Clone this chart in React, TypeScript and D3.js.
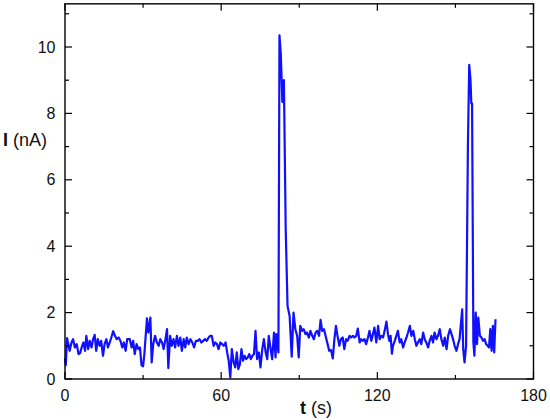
import React, { useEffect, useRef } from "react";
import * as d3 from "d3";

const xTicksMajor = [0, 60, 120, 180];
const xTicksMinor = [30, 90, 150];
const yTicksMajor = [0, 2, 4, 6, 8, 10];
const yTicksMinor = [1, 3, 5, 7, 9, 11];

const time = [
  0, 0.3, 0.8, 1.8, 2.5, 3.1, 3.8, 4.5, 5.2, 5.8, 6.4, 7.1, 7.7, 8.2, 8.9, 9.5, 10.2, 10.8, 11.4, 12.0, 12.6,
  13.3, 13.9, 14.6, 15.2, 15.9, 16.5, 17.2, 17.8, 18.5, 19.2, 19.9, 20.6, 21.3, 22.0, 22.6, 23.3, 23.9, 24.9,
  25.6, 26.2, 26.8, 27.5, 28.2, 28.8, 29.4, 30.0, 30.5, 31.0, 31.5, 32.0, 32.4, 32.8, 33.3, 33.9, 34.6, 35.3,
  36.0, 36.6, 37.3, 37.9, 38.6, 39.2, 39.7, 40.4, 41.0, 41.7, 42.3, 43.0, 43.6, 44.3, 44.9, 45.6, 46.2, 46.8,
  47.5, 48.2, 48.9, 49.6, 50.3, 51.0, 51.7, 52.4, 53.1, 53.8, 54.5, 55.2, 55.8, 56.4, 57.1, 57.7, 58.4, 59.0,
  59.7, 60.4, 61.0, 61.7, 62.3, 62.9, 63.5, 64.1, 64.8, 65.4, 66.0, 66.6, 67.2, 67.8, 68.4, 69.0, 69.6, 70.2,
  70.8, 71.4, 72.0, 72.6, 73.2, 73.8, 74.5, 75.1, 75.8, 76.4, 77.1, 77.7, 78.3, 79.0, 79.6, 80.3, 80.9, 81.2,
  82.0, 82.4, 82.9, 83.5, 84.1, 84.8, 85.5, 86.3, 87.1, 87.8, 88.5, 89.2, 89.8, 90.4, 91.1, 91.7, 92.4, 93.0,
  93.7, 94.3, 95.0, 95.6, 96.3, 96.9, 97.6, 98.2, 98.8, 99.5, 100.1, 100.9, 101.5, 102.2, 102.9, 103.5, 104.1,
  104.7, 105.4, 106.0, 106.7, 107.3, 108.0, 108.6, 109.3, 109.9, 110.6, 111.2, 111.9, 112.5, 113.2, 113.8,
  114.4, 115.1, 115.7, 116.4, 117.0, 117.7, 118.3, 118.9, 119.6, 120.3, 120.9, 121.5, 122.2, 122.8, 123.5,
  124.1, 124.6, 125.1, 125.6, 126.0, 126.7, 127.3, 127.9, 128.6, 129.2, 129.9, 130.5, 131.2, 131.8, 132.5,
  133.1, 133.8, 134.4, 135.0, 135.6, 136.3, 136.9, 137.6, 138.2, 138.8, 139.5, 140.1, 140.8, 141.4, 142.0,
  142.7, 143.3, 144.0, 144.6, 145.3, 145.9, 146.6, 147.2, 147.9, 148.5, 149.1, 149.7, 150.4, 151.0, 151.6,
  152.1, 152.6, 153.0, 153.5, 154.1, 154.8, 155.3, 155.8, 156.1, 156.4, 156.9, 157.3, 157.8, 158.3, 158.8,
  159.4, 160.0, 160.6, 161.2, 161.8, 162.4, 162.9, 163.4, 163.9, 164.4, 164.9, 165.4,
];

const current = [
  0.62, 0.42, 1.23, 0.85, 1.1, 1.2, 0.95, 1.05, 0.75, 0.78, 0.95, 1.1, 0.85, 1.3, 0.9, 1.15, 0.95, 1.2, 1.33,
  0.85, 1.2, 1.0, 1.15, 0.7, 1.05, 1.2, 0.95, 1.1, 1.25, 1.44, 1.3, 1.2, 1.25, 1.15, 0.95, 1.1, 0.85, 1.2, 1.2,
  0.95, 1.15, 0.75, 1.05, 0.9, 0.95, 0.42, 0.38, 0.75, 1.3, 1.83, 1.4, 1.6, 1.85, 0.5, 1.05, 1.3, 1.1, 1.0,
  1.2, 1.1, 0.9, 1.2, 1.5, 0.33, 1.3, 1.0, 1.2, 0.95, 1.3, 1.0, 1.25, 0.85, 1.2, 0.95, 1.25, 1.05, 1.2, 1.1,
  0.95, 1.15, 1.15, 1.2, 1.1, 1.15, 1.2, 1.15, 1.25, 1.3, 1.3, 1.0, 1.1, 1.05, 0.9, 1.1, 1.05, 1.0, 1.1, 0.8,
  0.55, 0.05, 0.9, 0.5, 0.35, 0.8, 0.3, 0.45, 0.9, 0.55, 0.7, 0.6, 0.65, 0.75, 0.6, 0.7, 0.75, 1.45, 0.6,
  0.8, 0.35, 0.9, 1.2, 0.8, 0.6, 1.3, 0.9, 0.6, 1.4, 0.65, 1.35, 0.8, 10.35, 9.8, 8.35, 9.0, 4.5, 2.2, 1.9,
  0.67, 2.0, 1.5, 1.3, 0.65, 1.6, 1.45, 1.5, 1.35, 1.4, 1.25, 1.45, 1.3, 1.2, 1.4, 1.45, 1.3, 1.78, 1.45, 1.5,
  1.3, 1.05, 0.85, 0.87, 0.62, 1.2, 1.6, 1.3, 1.0, 1.2, 1.25, 0.9, 1.2, 1.15, 1.3, 1.25, 1.3, 1.25, 1.3,
  1.52, 1.1, 1.2, 1.15, 1.2, 1.05, 1.25, 1.45, 1.15, 1.35, 1.55, 1.1, 1.6, 1.2, 1.3, 1.25, 1.45, 1.73, 1.35,
  1.15, 1.3, 0.76, 1.0, 1.15, 1.3, 1.45, 1.1, 1.2, 0.95, 1.1, 1.25, 1.4, 1.6, 1.3, 1.45, 1.2, 1.0, 1.1, 1.2,
  1.05, 1.4, 1.2, 1.1, 0.95, 1.15, 1.3, 1.1, 1.4, 1.2, 1.3, 1.5, 1.2, 1.0, 1.25, 0.9, 1.3, 1.5, 1.35, 1.2,
  1.0, 0.85, 1.05, 1.2, 1.65, 2.1, 0.9, 0.5, 1.0, 7.0, 9.46, 9.0, 8.3, 8.3, 1.1, 0.7, 2.0, 1.05, 1.85, 1.3,
  1.25, 1.15, 1.2, 1.05, 1.0, 0.95, 1.5, 0.85, 1.6, 0.8, 1.8,
];

export default function App() {
  const ref = useRef<SVGSVGElement>(null);

  useEffect(() => {
    const svg = d3.select(ref.current);
    svg.selectAll("*").remove();

    const left = 65, right = 533.5, bottom = 379;
    const x = d3.scaleLinear().domain([0, 180]).range([left, right]);
    const y = d3.scaleLinear().domain([0, 11.3]).range([bottom, bottom - 11.3 * 33.2]);
    const top = y(11.3);

    const data = time.map((t, i) => [t, current[i]] as [number, number]);

    const g = svg.append("g");

    g.append("path")
      .datum(data)
      .attr("fill", "none")
      .attr("stroke", "#1010ff")
      .attr("stroke-width", 2.2)
      .attr("stroke-linejoin", "round")
      .attr("d", d3.line<[number, number]>().x((d) => x(d[0])).y((d) => y(d[1])));

    g.append("rect")
      .attr("x", left)
      .attr("y", top)
      .attr("width", right - left)
      .attr("height", bottom - top)
      .attr("fill", "none")
      .attr("stroke", "#000")
      .attr("stroke-width", 1.4);

    const major = 7, minor = 4;
    const tickG = g.append("g").attr("stroke", "#000").attr("stroke-width", 1.2);
    const xt = [
      ...xTicksMajor.map((v) => [v, major]),
      ...xTicksMinor.map((v) => [v, minor]),
    ];
    xt.forEach(([v, len]) => {
      tickG.append("line").attr("x1", x(v)).attr("x2", x(v)).attr("y1", bottom).attr("y2", bottom - len);
      tickG.append("line").attr("x1", x(v)).attr("x2", x(v)).attr("y1", top).attr("y2", top + len);
    });
    const yt = [
      ...yTicksMajor.map((v) => [v, major]),
      ...yTicksMinor.map((v) => [v, minor]),
    ];
    yt.forEach(([v, len]) => {
      tickG.append("line").attr("y1", y(v)).attr("y2", y(v)).attr("x1", left).attr("x2", left + len);
      tickG.append("line").attr("y1", y(v)).attr("y2", y(v)).attr("x1", right).attr("x2", right - len);
    });

    const font = "Liberation Sans, Arial, sans-serif";
    xTicksMajor.forEach((v) => {
      g.append("text")
        .attr("x", x(v))
        .attr("y", 400.5)
        .attr("text-anchor", "middle")
        .attr("font-family", font)
        .attr("font-size", 16)
        .attr("fill", "#111")
        .text(String(v));
    });
    yTicksMajor.forEach((v) => {
      g.append("text")
        .attr("x", 55.5)
        .attr("y", y(v) + 5.5)
        .attr("text-anchor", "end")
        .attr("font-family", font)
        .attr("font-size", 16)
        .attr("fill", "#111")
        .text(String(v));
    });

    const yl = g.append("text")
      .attr("x", 3)
      .attr("y", 146)
      .attr("font-family", font)
      .attr("font-size", 18)
      .attr("fill", "#111");
    yl.append("tspan").attr("font-weight", "bold").text("I");
    yl.append("tspan").text(" (nA)");

    const xl = g.append("text")
      .attr("x", 316)
      .attr("y", 414)
      .attr("text-anchor", "middle")
      .attr("font-family", font)
      .attr("font-size", 18)
      .attr("fill", "#111");
    xl.append("tspan").attr("font-weight", "bold").text("t");
    xl.append("tspan").text(" (s)");
  }, []);

  return (
    <svg
      ref={ref}
      width={550}
      height={420}
      style={{ position: "absolute", left: 0, top: 0, background: "#fff" }}
    />
  );
}
